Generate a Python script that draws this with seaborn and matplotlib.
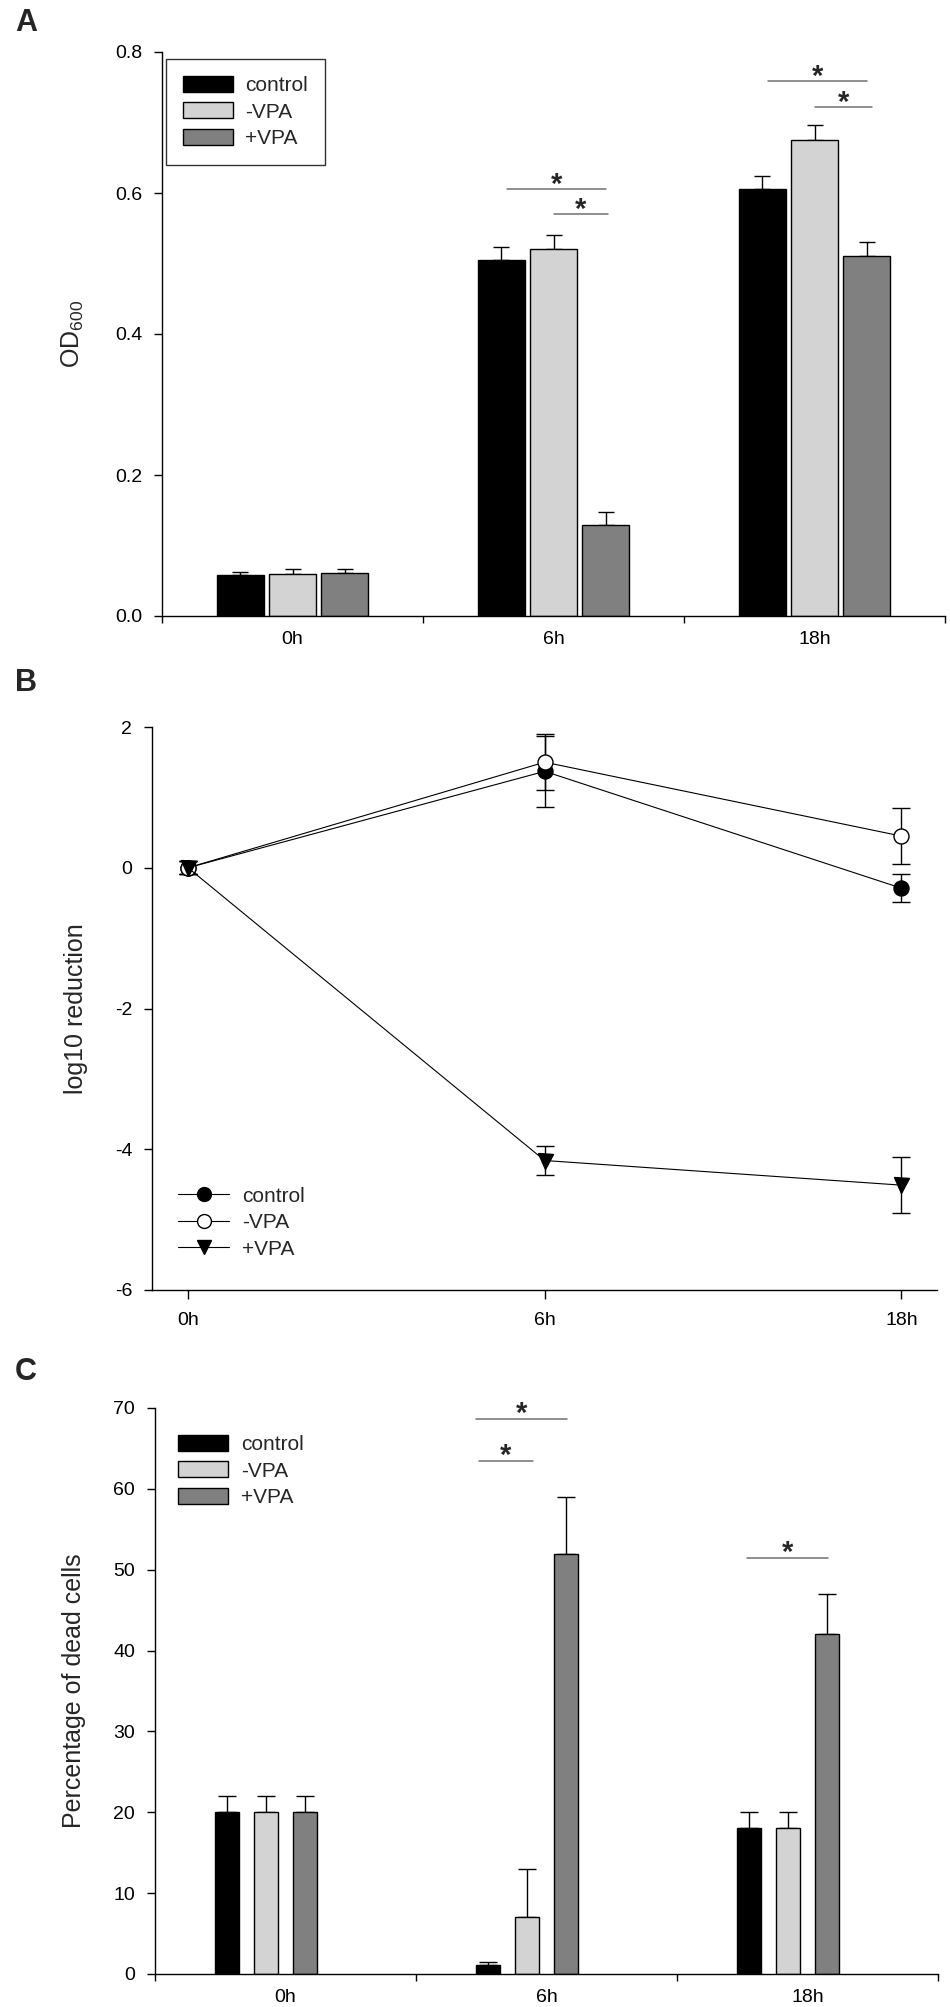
import numpy as np
import pandas as pd
import matplotlib
matplotlib.use('Agg')
import matplotlib.pyplot as plt
import seaborn as sns
from matplotlib.patches import Patch
from matplotlib.lines import Line2D

times = ['0h', '6h', '18h']
groups = ['control', '-VPA', '+VPA']
bar_colors = ['#000000', '#d3d3d3', '#808080']

# panel A: OD600
od_control = [0.058, 0.505, 0.605]
od_minus = [0.059, 0.520, 0.675]
od_plus = [0.061, 0.129, 0.510]
od_control_err = [0.005, 0.019, 0.019]
od_minus_err = [0.008, 0.021, 0.021]
od_plus_err = [0.005, 0.019, 0.021]
sig_a = [(0.82, 1.20, 0.606), (1.0, 1.21, 0.570), (1.82, 2.20, 0.759), (2.0, 2.22, 0.722)]

# panel B: log10 reduction
log_control = [0.0, 1.37, -0.29]
log_minus = [0.0, 1.50, 0.45]
log_plus = [0.0, -4.16, -4.51]
log_control_err = [0.09, 0.50, 0.20]
log_minus_err = [0.09, 0.40, 0.40]
log_plus_err = [0.09, 0.20, 0.40]

# panel C: percentage of dead cells
dead_control = [20, 1.1, 18]
dead_minus = [20, 7, 18]
dead_plus = [20, 52, 42]
dead_control_err = [2, 0.4, 2]
dead_minus_err = [2, 6, 2]
dead_plus_err = [2, 7, 5]
sig_c = [(0.73, 1.08, 68.7), (0.74, 0.95, 63.5), (1.77, 2.08, 51.5)]

sns.set_style('ticks')
plt.rcParams['font.family'] = ['Liberation Sans', 'DejaVu Sans']
plt.rcParams['mathtext.default'] = 'regular'
plt.rcParams['axes.unicode_minus'] = False
plt.rcParams['axes.linewidth'] = 1.0
plt.rcParams['axes.edgecolor'] = 'black'
plt.rcParams['xtick.color'] = 'black'
plt.rcParams['ytick.color'] = 'black'

W, H = 950, 2007
fig = plt.figure(figsize=(9.5, 20.07), dpi=100)


def frame(left, right, top, bottom):
    return [left / W, 1 - bottom / H, (right - left) / W, (bottom - top) / H]


def bar_panel(ax, vals, errs, slots, gap, capsize):
    df = pd.DataFrame({'time': np.tile(times, 3),
                       'group': np.repeat(groups, 3),
                       'value': np.concatenate(vals)})
    hue_order = groups + ['none'] * (slots - 3)
    pal = dict(zip(groups, bar_colors))
    pal['none'] = 'white'
    sns.barplot(data=df, x='time', y='value', hue='group', order=times,
                hue_order=hue_order, palette=pal, width=0.6, gap=gap,
                edgecolor='black', linewidth=1, saturation=1,
                errorbar=None, legend=False, ax=ax)
    for cont, err in zip(ax.containers, errs):
        xs = [p.get_x() + p.get_width() / 2 for p in cont]
        ys = [p.get_height() for p in cont]
        ax.errorbar(xs, ys, yerr=[np.zeros(len(err)), err], fmt='none',
                    ecolor='black', elinewidth=1, capsize=capsize,
                    capthick=1, zorder=0.9)
    ax.set_xlim(-0.5, 2.5)
    ax.set_xticks(range(3))
    ax.set_xticklabels(times)
    ax.set_xticks([-0.5, 0.5, 1.5, 2.5], minor=True)
    ax.tick_params(axis='x', which='major', length=0, labelsize=14)
    ax.tick_params(axis='x', which='minor', length=5, width=1, direction='out')
    ax.tick_params(axis='y', length=5.8, width=1, direction='out',
                   labelsize=14, pad=8.5)
    ax.set_xlabel('')
    sns.despine(ax=ax)


def sig(ax, items, off):
    for x1, x2, y in items:
        ax.plot([x1, x2], [y, y], color='#707070', lw=1.1)
        ax.annotate('*', xy=((x1 + x2) / 2, y), xytext=(0, off),
                    textcoords='offset points', ha='center', va='center',
                    fontsize=21, fontweight='bold')


def bar_legend(ax, anchor, framed):
    handles = [Patch(facecolor=c, edgecolor='black', linewidth=1, label=g)
               for g, c in zip(groups, bar_colors)]
    leg = ax.legend(handles=handles, loc='center left', bbox_to_anchor=anchor,
                    borderaxespad=0, frameon=framed, fancybox=False,
                    fontsize=15, handlelength=2.4, handleheight=0.78,
                    handletextpad=0.62, labelspacing=0.36,
                    borderpad=0.8 if framed else 0)
    if framed:
        leg.get_frame().set_edgecolor('black')
        leg.get_frame().set_linewidth(1)


# ---- A
axA = fig.add_axes(frame(162, 945, 52, 616))
bar_panel(axA, [od_control, od_minus, od_plus],
          [od_control_err, od_minus_err, od_plus_err], 3, 0.09, 5.8)
axA.set_ylim(0, 0.8)
axA.set_yticks(np.arange(0, 0.81, 0.2))
axA.set_yticklabels(['%.1f' % v for v in np.arange(0, 0.81, 0.2)])
axA.tick_params(axis='x', which='major', pad=11)
axA.set_ylabel('OD$_{600}$', fontsize=18)
axA.yaxis.set_label_coords(-0.097, 0.5)
sig(axA, sig_a, 3)
bar_legend(axA, (0.005, 0.8936), True)

# ---- B
axB = fig.add_axes(frame(152, 937, 727, 1290))
xpos = np.arange(3)
markers = ['o', 'o', 'v']
faces = ['black', 'white', 'black']
for vals, err, m, fc in zip([log_control, log_minus, log_plus],
                            [log_control_err, log_minus_err, log_plus_err],
                            markers, faces):
    axB.errorbar(xpos, vals, yerr=err, fmt='none', ecolor='black',
                 elinewidth=1, capsize=6.5, capthick=1, zorder=2)
    sns.lineplot(x=xpos, y=vals, color='black', lw=0.8, marker=m,
                 markersize=10.8, markerfacecolor=fc, markeredgecolor='black',
                 markeredgewidth=1, ax=axB, zorder=3)
axB.set_xlim(-0.101, 2.10)
axB.set_ylim(-6, 2)
axB.set_yticks([-6, -4, -2, 0, 2])
axB.set_xticks(xpos)
axB.set_xticklabels(times)
axB.tick_params(axis='x', length=6.5, width=1, labelsize=14, pad=9)
axB.tick_params(axis='y', length=5.8, width=1, labelsize=14, pad=8.5)
axB.set_ylabel('log10 reduction', fontsize=18)
axB.yaxis.set_label_coords(-0.0815, 0.5)
sns.despine(ax=axB)
line_handles = [Line2D([0], [0], color='black', lw=0.8, marker=m, markersize=10,
                       markerfacecolor=fc, markeredgecolor='black', label=g)
                for g, m, fc in zip(groups, markers, faces)]
axB.legend(handles=line_handles, loc='center left',
           bbox_to_anchor=(0.0331, 0.1195), borderaxespad=0, borderpad=0,
           frameon=False, fontsize=15, handlelength=2.45, handletextpad=0.62,
           labelspacing=0.36)

# ---- C
axC = fig.add_axes(frame(155, 938, 1408, 1974))
bar_panel(axC, [dead_control, dead_minus, dead_plus],
          [dead_control_err, dead_minus_err, dead_plus_err], 4, 0.39, 6.5)
axC.set_ylim(0, 70)
axC.set_yticks(range(0, 71, 10))
axC.tick_params(axis='x', which='major', pad=10.5)
axC.set_ylabel('Percentage of dead cells', fontsize=18)
axC.yaxis.set_label_coords(-0.088, 0.5)
sig(axC, sig_c, 3)
bar_legend(axC, (0.0294, 0.8887), False)

for letter, top in zip(['A', 'B', 'C'], [8, 668, 1357]):
    fig.text(15 / W, 1 - top / H, letter, ha='left', va='top',
             fontsize=22, fontweight='bold')

fig.savefig('out.png', dpi=100)
